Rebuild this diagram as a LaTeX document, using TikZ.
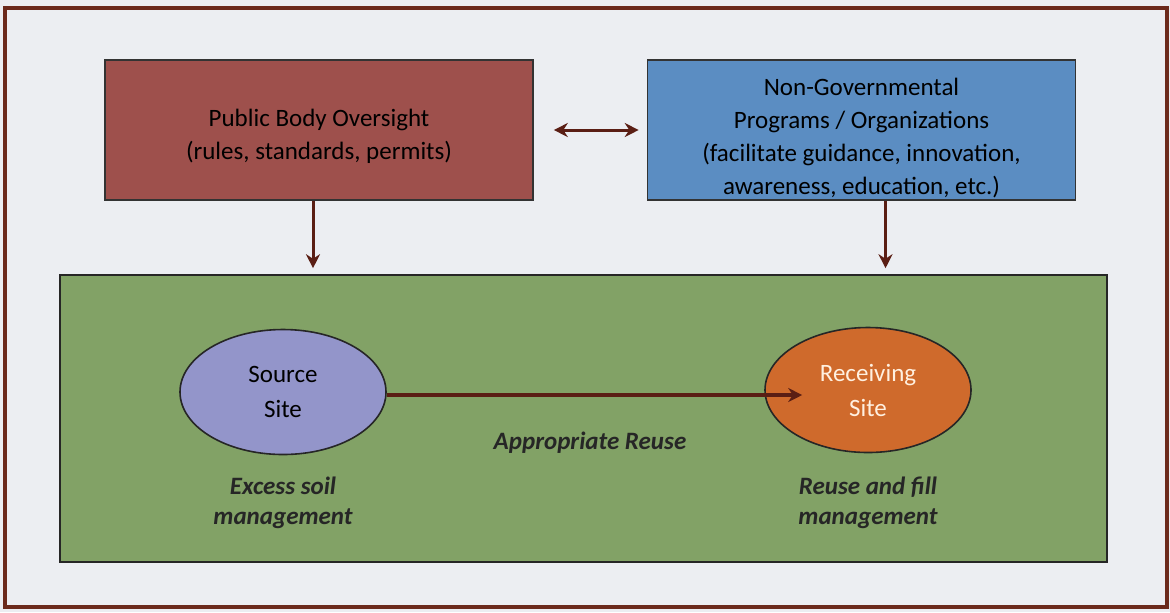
\documentclass[tikz,border=0pt]{standalone}
\usepackage{fontspec}
\setmainfont{Carlito}
\usepackage{tikz}
\usetikzlibrary{
    shapes.geometric,
    arrows.meta,
    positioning
}
\definecolor{framebrown}{HTML}{6B2A1C}
\definecolor{arrowbrown}{HTML}{5A1E14}
\definecolor{paper}{HTML}{ECEEF2}
\definecolor{oversightred}{HTML}{9E504C}
\definecolor{ngoblue}{HTML}{5B8DC2}
\definecolor{areagreen}{HTML}{82A266}
\definecolor{sourcelilac}{HTML}{9395CA}
\definecolor{receiveorange}{HTML}{CF6A2C}
\tikzset{
    bodybox/.style = {
        rectangle,
        draw=black!80,
        thick,
        inner ysep=2pt,
        minimum width=214pt,
        minimum height=70pt,
        align=center,
        font=\fontsize{12.5}{16.5}\selectfont
    },
    site/.style = {
        ellipse,
        draw=black!85,
        thick,
        inner sep=0pt,
        minimum width=103pt,
        minimum height=62.5pt,
        align=center,
        font=\fontsize{12.5}{17.5}\selectfont
    },
    note/.style = {
        align=center,
        font=\fontsize{12.5}{15}\selectfont\bfseries\itshape,
        text=black!85
    },
    arrow/.style = {
        -{Stealth[length=7pt,width=7pt]},
        line width=1.5pt,
        draw=arrowbrown
    }
}

\begin{document}
\begin{tikzpicture}[x=0.5pt,y=-0.5pt]
\useasboundingbox (0,0) rectangle (1170,612);
\fill[paper] (0,0) rectangle (1170,612);
\draw[framebrown, line width=2pt] (5,8) rectangle (1167,607);

\node (area) [rectangle, draw=black!85, thick, fill=areagreen,
    minimum width=523.5pt, minimum height=143.5pt] at (583.5,418.5) {};

\node (oversight) [bodybox, fill=oversightred, text height=32pt, text depth=2.5pt] at (319,130)
    {Public Body Oversight\\(rules, standards, permits)};
\node (ngo) [bodybox, fill=ngoblue, text height=64pt, text depth=0pt] at (861.5,130)
    {Non-Governmental\\Programs / Organizations\\(facilitate guidance, innovation,\\awareness, education, etc.)};

\node (source) [site, fill=sourcelilac] at (283,392) {Source\\Site};
\node (receiving) [site, fill=receiveorange, text=white!88!orange] at (868,390) {Receiving\\Site};

\node (reuse) [note] at (590,443) {Appropriate Reuse};
\node (excess) [note, below=7.5pt of source] {Excess soil\\management};
\node (fill) [note, below=8.5pt of receiving] {Reuse and fill\\management};

\draw [arrow, {Stealth[length=7pt,width=7pt]}-{Stealth[length=7pt,width=7pt]},
    shorten <=10pt, shorten >=4pt] (oversight) -- (ngo);
\draw [arrow, shorten >=3pt] ([xshift=-3pt]oversight.south) -- ([xshift=-3pt]oversight.south |- area.north);
\draw [arrow, shorten >=3pt] ([xshift=12pt]ngo.south) -- ([xshift=12pt]ngo.south |- area.north);
\draw [arrow, line width=2pt] ([yshift=-1.5pt]source.east) -- ([xshift=19pt,yshift=-1.5pt]source.east -| receiving.west);
\end{tikzpicture}
\end{document}
